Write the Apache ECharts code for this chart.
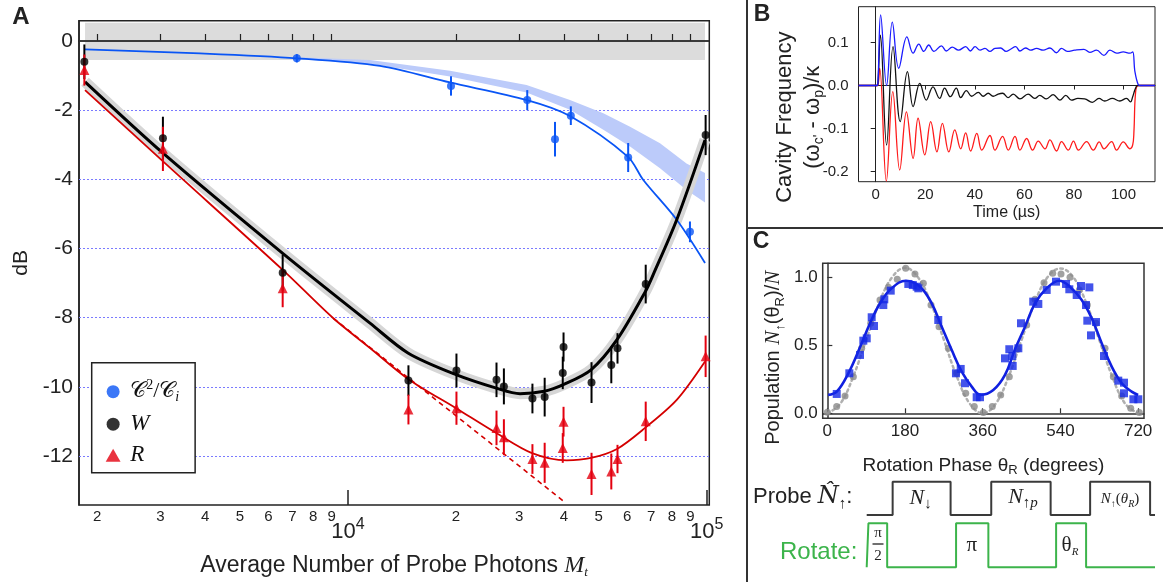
<!DOCTYPE html>
<html><head><meta charset="utf-8">
<script src="https://cdn.jsdelivr.net/npm/echarts@6/dist/echarts.min.js"></script>
<style>html,body{margin:0;padding:0;background:#fff}#c{width:1163px;height:582px}</style>
</head><body><div id="c"></div>
<script>
// ---------------- Panel A data (photon number M_t, dB, error) ----------------
const photonsBlue = [7200, 19370, 31600, 37760, 41800, 60400, 89800];
const dbBlue = [-0.50, -1.30, -1.71, -2.84, -2.16, -3.37, -5.52];
const errBlue = [0.12, 0.28, 0.29, 0.50, 0.27, 0.42, 0.30];

const photonsWR = [1841, 3048, 6575, 14740, 20060, 25940, 27200, 32670, 35340, 39690, 39890, 47740, 54200, 56400, 67600, 99300];
const dbW = [-0.60, -2.81, -6.70, -9.82, -9.53, -9.80, -9.99, -10.34, -10.30, -9.60, -8.85, -9.88, -9.37, -8.89, -7.03, -2.72];
const errW = [0.50, 0.62, 0.52, 0.44, 0.49, 0.50, 0.52, 0.43, 0.56, 0.47, 0.42, 0.59, 0.53, 0.44, 0.56, 0.58];
const dbR = [-0.84, -3.12, -7.15, -10.66, -10.62, -11.19, -11.46, -12.09, -12.20, -11.77, -11.01, -12.52, -12.45, -12.09, -11.00, -9.12];
const errR = [0.45, 0.64, 0.55, 0.43, 0.48, 0.50, 0.52, 0.43, 0.58, 0.43, 0.43, 0.61, 0.52, 0.41, 0.57, 0.60];

const fitBlueM = [1849, 3868, 7207, 12285, 19250, 31550, 41580, 60350, 66570, 82490, 98920];
const fitBlueDb = [-0.24, -0.36, -0.50, -0.72, -1.20, -1.71, -2.17, -3.35, -4.02, -5.17, -6.42];

const bandBlueM = [7207, 11516, 19250, 31460, 41580, 51500, 61130, 74100, 87830, 98920];
const bandBlueHi = [-0.47, -0.55, -0.86, -1.27, -1.71, -2.09, -2.48, -2.96, -3.54, -3.82];
const bandBlueLo = [-0.52, -0.66, -1.03, -1.49, -1.99, -2.57, -3.05, -3.68, -4.31, -4.67];

const fitWM = [1849, 3056, 6577, 11516, 14730, 20000, 25910, 30170, 35270, 39830, 47590, 56220, 67420, 70980, 82490, 98920];
const fitWDb = [-1.18, -3.25, -6.14, -8.16, -9.03, -9.65, -10.04, -10.20, -10.13, -9.94, -9.51, -8.64, -7.25, -6.75, -5.17, -2.86];

const fitRM = [1849, 3056, 6577, 9100, 11516, 14730, 20000, 25910, 32580, 40710, 47590, 56220, 67330, 82490, 98920];
const fitRDb = [-1.42, -3.49, -6.62, -8.02, -8.88, -9.78, -10.62, -11.34, -11.92, -12.13, -12.06, -11.80, -11.19, -10.38, -9.27];

const asymRM = [9100, 40450];
const asymRDb = [-8.02, -13.36];

const zeroBandM = [1849, 98920];
const zeroBandDb = [0.53, -0.55];

const yTicksA = [0, -2, -4, -6, -8, -10, -12];
const gridLinesA = [-2, -4, -6, -8, -10, -12];
const minorTicksA = [2000, 3000, 4000, 5000, 6000, 7000, 8000, 9000, 20000, 30000, 40000, 50000, 60000, 70000, 80000, 90000];
const majorTicksA = [10000, 100000];

// ---------------- Panel B data (time in µs, cavity frequency) ----------------
const tBlue = [-6.9, 0.5, 0.9, 2.0, 4.4, 6.7, 9.3, 12.6, 15.1, 17.4, 19.4, 21.4, 23.5, 26.5, 28.5, 30.9, 33.4, 36.3, 38.2, 40.1, 42.1, 44.1, 46.1, 48.1, 50.4, 52.6, 54.4, 56.5, 58.2, 60.5, 62.5, 64.9, 67.6, 70.3, 72.9, 75.0, 77.3, 80.3, 84.0, 86.4, 89.1, 92.1, 94.5, 97.2, 99.9, 102.6, 103.7, 104.6, 106.0, 106.6, 112.7];
const fBlue = [0, 0, 0.005, 0.164, 0.0, 0.147, 0.040, 0.113, 0.075, 0.096, 0.079, 0.094, 0.079, 0.092, 0.080, 0.089, 0.082, 0.090, 0.080, 0.090, 0.082, 0.086, 0.079, 0.086, 0.087, 0.079, 0.084, 0.090, 0.080, 0.087, 0.082, 0.086, 0.082, 0.087, 0.076, 0.086, 0.079, 0.082, 0.084, 0.077, 0.082, 0.070, 0.082, 0.075, 0.078, 0.075, 0.078, 0.032, 0.001, 0, 0];
const tBlack = [-6.9, 0.5, 0.9, 1.9, 4.4, 7.0, 9.9, 12.8, 15.1, 17.8, 20.4, 23.1, 25.8, 27.8, 30.1, 32.5, 34.3, 36.6, 38.7, 41.4, 43.4, 45.4, 47.4, 49.4, 51.2, 53.4, 55.5, 58.2, 61.5, 64.2, 66.2, 68.9, 71.6, 74.3, 76.7, 79.0, 81.6, 84.3, 87.4, 90.1, 92.4, 95.5, 98.5, 101.2, 102.8, 103.7, 104.6, 105.6, 106.2, 112.7];
const fBlack = [0, 0, 0.005, 0.117, -0.138, 0.090, -0.084, 0.032, -0.049, 0.005, -0.034, -0.003, -0.030, -0.006, -0.026, -0.006, -0.028, -0.012, -0.025, -0.016, -0.025, -0.018, -0.025, -0.020, -0.018, -0.028, -0.020, -0.031, -0.020, -0.030, -0.023, -0.031, -0.021, -0.034, -0.023, -0.034, -0.030, -0.031, -0.039, -0.030, -0.036, -0.030, -0.036, -0.030, -0.038, -0.026, -0.010, 0.0, 0, 0];
const tRed = [-6.9, 0.5, 0.9, 1.6, 4.3, 6.9, 9.7, 12.4, 15.1, 17.1, 19.8, 22.2, 24.7, 26.9, 29.5, 31.9, 34.3, 36.3, 38.3, 40.8, 42.8, 46.1, 48.1, 51.2, 53.5, 56.2, 58.2, 60.9, 63.3, 65.6, 68.3, 70.3, 73.0, 75.0, 77.7, 79.8, 81.8, 85.1, 87.8, 90.2, 92.1, 95.2, 97.2, 99.9, 102.6, 103.7, 104.2, 104.9, 106.0, 106.6, 112.7];
const fRed = [0, 0, 0.0, 0.040, -0.222, -0.014, -0.196, -0.061, -0.169, -0.076, -0.161, -0.084, -0.154, -0.088, -0.154, -0.103, -0.147, -0.110, -0.152, -0.111, -0.150, -0.116, -0.150, -0.118, -0.150, -0.118, -0.150, -0.123, -0.150, -0.129, -0.147, -0.126, -0.152, -0.130, -0.150, -0.129, -0.150, -0.130, -0.150, -0.131, -0.147, -0.130, -0.150, -0.131, -0.147, -0.138, -0.107, -0.014, 0.0, 0, 0];
const xTicksB = [0, 20, 40, 60, 80, 100];
const yTicksB = [-0.2, -0.1, 0.0, 0.1];

// ---------------- Panel C data (rotation phase in degrees, population) ----------------
const phaseGray = [0, 21.7, 41, 60.3, 79.6, 100.5, 122, 141.4, 162, 181.6, 203, 222.4, 240.2, 258.8, 280.3, 299.7, 320.6, 340.5, 361.4, 382.2, 401.6, 421.6, 441, 461.9, 481.1, 502, 522.1, 541.4, 562.2, 583.7, 602.3, 622.4, 643.3, 662.5, 681.9, 702.8, 722.7];
const popGray = [0.007, 0.049, 0.127, 0.269, 0.478, 0.662, 0.833, 0.926, 0.985, 1.066, 1.024, 0.956, 0.796, 0.637, 0.478, 0.294, 0.147, 0.049, 0.005, 0.049, 0.135, 0.269, 0.47, 0.649, 0.838, 0.96, 1.029, 1.024, 1.0, 0.907, 0.796, 0.662, 0.478, 0.269, 0.127, 0.037, 0.005];
const phaseDotted = [0, 30, 60, 90, 120, 150, 180, 210, 240, 270, 300, 330, 360, 390, 420, 450, 480, 510, 540, 570, 600, 630, 660, 690, 720];
const popDotted = [0.0, 0.07, 0.27, 0.54, 0.81, 1.0, 1.07, 1.0, 0.81, 0.54, 0.27, 0.07, 0.0, 0.07, 0.27, 0.54, 0.81, 1.0, 1.065, 1.0, 0.81, 0.54, 0.27, 0.07, 0.0];
const phaseFit = [2, 21.8, 48.7, 75.7, 98.9, 122, 149, 182, 214.7, 241.8, 265, 288.2, 311.3, 334.5, 355, 384.5, 411.6, 434.8, 458, 481.1, 508.2, 537, 562, 589.3, 612.5, 635.6, 658.8, 682, 705, 720];
const popFit = [0.135, 0.159, 0.294, 0.485, 0.662, 0.809, 0.919, 0.975, 0.931, 0.809, 0.637, 0.465, 0.306, 0.196, 0.135, 0.171, 0.282, 0.47, 0.637, 0.809, 0.919, 0.975, 0.931, 0.833, 0.699, 0.515, 0.343, 0.221, 0.159, 0.135];
const phaseBlue = [21.8, 51, 75.7, 83.4, 91.3, 102.8, 108.2, 129.7, 132, 146.9, 187.6, 198, 207, 210.8, 257, 298, 309, 319, 346, 353.7, 411.6, 421.6, 428.6, 429.4, 442.5, 448.7, 477, 488.8, 508.2, 529.8, 553, 560.6, 577.7, 587.7, 599.3, 602.3, 607, 610.8, 622.4, 641, 674, 687.3, 687.3, 709, 720.4];
const popBlue = [0.142, 0.294, 0.429, 0.534, 0.551, 0.706, 0.642, 0.796, 0.838, 0.902, 0.951, 0.943, 0.931, 0.919, 0.686, 0.294, 0.326, 0.221, 0.118, 0.118, 0.404, 0.471, 0.421, 0.348, 0.478, 0.662, 0.821, 0.804, 0.907, 0.968, 0.951, 0.912, 0.870, 0.936, 0.796, 0.681, 0.926, 0.573, 0.671, 0.421, 0.240, 0.225, 0.147, 0.103, 0.103];
const xTicksC = [0, 180, 360, 540, 720];
const yTicksC = [0, 0.5, 1.0];

// ---------------- Pulse sequence (schematic time units 0..100) ----------------
const probeEdges = [0, 9.0, 29.1, 43.2, 63.8, 77.5, 98.3, 100];
const rotateEdges = [0, 0.6, 7.1, 31.0, 42.2, 65.7, 76.1, 100];

// ---------------- helpers ----------------
const SANS = "'Liberation Sans', Arial, sans-serif";
const SERIF = "'Liberation Serif', 'DejaVu Serif', serif";
const lg = Math.log10;
const pairs = (xs, ys) => xs.map((x, i) => [x, ys[i]]);
const lpairs = (ms, ys) => ms.map((m, i) => [lg(m), ys[i]]);
function steps(edges) {
  let lvl = 0; const pts = [[edges[0], lvl]];
  for (let i = 1; i < edges.length - 1; i++) { pts.push([edges[i], lvl]); lvl = 1 - lvl; pts.push([edges[i], lvl]); }
  pts.push([edges[edges.length - 1], lvl]);
  return pts;
}
function errSeries(ms, vals, errs, color) {
  return {
    type: 'custom', xAxisIndex: 0, yAxisIndex: 0, z: 6, silent: true,
    data: ms.map((m, i) => [lg(m), vals[i], errs[i]]),
    encode: { x: 0, y: 1 },
    renderItem: (params, api) => {
      const x = api.value(0), y = api.value(1), e = api.value(2);
      const a = api.coord([x, y + e]), b = api.coord([x, y - e]);
      return { type: 'line', shape: { x1: a[0], y1: a[1], x2: b[0], y2: b[1] }, style: { stroke: color, lineWidth: 2 } };
    }
  };
}
const BLUE_A = '#0a55f5', RED_A = '#e3000f', RED_LINE = '#d40000';
const SMOOTH_A = 0.3;

const axisCommon = { nameMoveOverlap: false };

const option = {
  animation: false,
  backgroundColor: '#ffffff',
  textStyle: { fontFamily: SANS },
  grid: [
    { left: 79, top: 20.7, width: 630.3, height: 484.3, show: true, borderColor: '#222', borderWidth: 1.5, backgroundColor: 'rgba(0,0,0,0)', containLabel: false, outerBoundsMode: 'none' },
    { left: 858.5, top: 6.7, width: 296.5, height: 175, show: true, borderColor: '#222', borderWidth: 1, backgroundColor: 'rgba(0,0,0,0)', containLabel: false, outerBoundsMode: 'none' },
    { left: 822.7, top: 263.3, width: 321.3, height: 155, show: true, borderColor: '#333', borderWidth: 1.5, backgroundColor: 'rgba(0,0,0,0)', containLabel: false, outerBoundsMode: 'none' },
    { left: 866.7, top: 481.7, width: 288.3, height: 33.3, containLabel: false, outerBoundsMode: 'none' },
    { left: 866.7, top: 523.3, width: 288.3, height: 44, containLabel: false, outerBoundsMode: 'none' }
  ],
  xAxis: [
    Object.assign({}, axisCommon, {
      gridIndex: 0, type: 'value', position: 'bottom', min: 3.2501, max: 5.0072,
      axisLine: { show: true, lineStyle: { color: '#222', width: 1.5 } },
      axisTick: { show: true, inside: true, length: 7, customValues: minorTicksA.map(lg), lineStyle: { color: '#222', width: 1.2 } },
      axisLabel: { show: true, customValues: minorTicksA.map(lg), margin: 4, fontSize: 15, color: '#222', fontFamily: SANS,
        formatter: v => String(Math.round(Math.pow(10, v - Math.floor(v + 1e-9)))) },
      splitLine: { show: false },
      name: 'Average Number of Probe Photons {m|M}{t|t}', nameLocation: 'middle', nameGap: 47,
      nameTextStyle: { fontSize: 23, color: '#222', fontFamily: SANS, lineHeight: 27,
        rich: { m: { fontFamily: SERIF, fontStyle: 'italic', fontSize: 24, lineHeight: 27 },
                t: { fontFamily: SERIF, fontStyle: 'italic', fontSize: 13, lineHeight: 12, verticalAlign: 'bottom' } } }
    }),
    Object.assign({}, axisCommon, {
      gridIndex: 0, type: 'value', position: 'bottom', min: 3.2501, max: 5.0072,
      axisLine: { show: false },
      axisTick: { show: true, inside: true, length: 15, customValues: majorTicksA.map(lg), lineStyle: { color: '#222', width: 1.5 } },
      axisLabel: { show: true, customValues: majorTicksA.map(lg), margin: 12, color: '#222',
        formatter: v => '{b|10}{s|' + Math.round(v) + '}',
        rich: { b: { fontSize: 22, fontFamily: SANS, lineHeight: 30, color: '#222' },
                s: { fontSize: 16, fontFamily: SANS, lineHeight: 16, verticalAlign: 'top', color: '#222' } } },
      splitLine: { show: false }
    }),
    Object.assign({}, axisCommon, {
      gridIndex: 1, type: 'value', min: -6.94, max: 112.7,
      axisLine: { show: true, lineStyle: { color: '#222', width: 1 } },
      axisTick: { show: true, inside: false, length: 4, customValues: xTicksB, lineStyle: { color: '#222' } },
      axisLabel: { show: true, customValues: xTicksB, margin: 6, fontSize: 15, color: '#222', fontFamily: SANS },
      splitLine: { show: false },
      name: 'Time (µs)', nameLocation: 'middle', nameGap: 23,
      nameTextStyle: { fontSize: 16, color: '#222', fontFamily: SANS }
    }),
    Object.assign({}, axisCommon, {
      gridIndex: 2, type: 'value', min: -10.7, max: 733.6,
      axisLine: { show: true, lineStyle: { color: '#333', width: 1.5 } },
      axisTick: { show: true, inside: true, length: 5, customValues: xTicksC, lineStyle: { color: '#333', width: 1.2 } },
      axisLabel: { show: true, customValues: xTicksC, margin: 5, fontSize: 17, color: '#222', fontFamily: SANS },
      splitLine: { show: false },
      name: 'Rotation Phase θ{s|R} (degrees)', nameLocation: 'middle', nameGap: 36,
      nameTextStyle: { fontSize: 19, color: '#222', fontFamily: SANS, lineHeight: 23,
        rich: { s: { fontSize: 13, fontFamily: SANS, lineHeight: 11, verticalAlign: 'bottom' } } }
    }),
    { gridIndex: 3, type: 'value', min: 0, max: 100, show: false },
    { gridIndex: 4, type: 'value', min: 0, max: 100, show: false }
  ],
  yAxis: [
    Object.assign({}, axisCommon, {
      gridIndex: 0, type: 'value', min: -13.42, max: 0.587,
      axisLine: { show: true, lineStyle: { color: '#222', width: 1.5 } },
      axisTick: { show: false },
      axisLabel: { show: true, customValues: yTicksA, margin: 6, fontSize: 21, color: '#222', fontFamily: SANS,
        formatter: v => String(Math.round(v)) },
      splitLine: { show: false },
      name: 'dB', nameLocation: 'middle', nameRotate: 90, nameGap: 47,
      nameTextStyle: { fontSize: 21, color: '#222', fontFamily: SANS }
    }),
    Object.assign({}, axisCommon, {
      gridIndex: 1, type: 'value', min: -0.2232, max: 0.1828,
      axisLine: { show: true, lineStyle: { color: '#222', width: 1 } },
      axisTick: { show: true, inside: false, length: 5, customValues: yTicksB, lineStyle: { color: '#222' } },
      axisLabel: { show: true, customValues: yTicksB, margin: 10, fontSize: 15, color: '#222', fontFamily: SANS,
        formatter: v => v.toFixed(1) },
      splitLine: { show: false },
      name: 'Cavity Frequency\n(ω{s|c\'} - ω{s|p})/κ', nameLocation: 'middle', nameRotate: 90, nameGap: 32,
      nameTextStyle: { fontSize: 22, color: '#222', fontFamily: SANS, lineHeight: 28, padding: [0, 46, 0, 0],
        rich: { s: { fontSize: 14, fontFamily: SANS, lineHeight: 12, verticalAlign: 'bottom' } } }
    }),
    Object.assign({}, axisCommon, {
      gridIndex: 2, type: 'value', min: -0.037, max: 1.103,
      axisLine: { show: true, lineStyle: { color: '#333', width: 1.5 } },
      axisTick: { show: true, inside: true, length: 5, customValues: yTicksC, lineStyle: { color: '#333', width: 1.2 } },
      axisLabel: { show: true, customValues: yTicksC, margin: 5, fontSize: 17, color: '#222', fontFamily: SANS,
        formatter: v => v.toFixed(1) },
      splitLine: { show: false },
      name: 'Population {n|N}{s|↑}(θ{s|R})/{n|N}', nameLocation: 'middle', nameRotate: 90, nameGap: 36,
      nameTextStyle: { fontSize: 20, color: '#222', fontFamily: SANS, lineHeight: 26, padding: [0, 34, 0, 0],
        rich: { n: { fontSize: 21, fontFamily: SERIF, fontStyle: 'italic', lineHeight: 26 },
                s: { fontSize: 13, fontFamily: SANS, lineHeight: 12, verticalAlign: 'bottom' } } }
    }),
    { gridIndex: 3, type: 'value', min: 0, max: 1, show: false },
    { gridIndex: 4, type: 'value', min: 0, max: 1, show: false }
  ],
  legend: {
    show: true, orient: 'vertical', left: 91.7, top: 362.7,
    padding: [16, 16, 6, 14], itemGap: 8, itemWidth: 24, itemHeight: 13,
    borderColor: '#222', borderWidth: 1.5, backgroundColor: '#fff',
    selectedMode: false, symbolKeepAspect: true,
    data: [{ name: 'C2Ci', icon: 'circle' }, { name: 'W', icon: 'circle' }, { name: 'R', icon: 'path://M6,0 L12,10.5 L0,10.5 Z' }],
    formatter: name => name === 'C2Ci' ? '{cal|𝒞}{sup|2}{sl|/}{cal|𝒞}{sub|i}' : '{it|' + name + '}',
    textStyle: { fontFamily: SERIF, fontSize: 22, color: '#111',
      rich: {
        cal: { fontFamily: "'DejaVu Sans', 'DejaVu Serif', serif", fontSize: 22, lineHeight: 26, color: '#111' },
        sup: { fontFamily: SERIF, fontSize: 14, lineHeight: 14, verticalAlign: 'top', color: '#111' },
        sl: { fontFamily: SERIF, fontSize: 22, lineHeight: 26, color: '#111' },
        sub: { fontFamily: SERIF, fontStyle: 'italic', fontSize: 14, lineHeight: 14, verticalAlign: 'bottom', color: '#111' },
        it: { fontFamily: SERIF, fontStyle: 'italic', fontSize: 23, lineHeight: 26, color: '#111' }
      } }
  },
  series: [
    // reference band at 0 dB, zero line and dotted grid lines
    { type: 'line', name: 'refs', xAxisIndex: 0, yAxisIndex: 0, z: 1, silent: true, symbol: 'none',
      data: lpairs(zeroBandM, [0, 0]), lineStyle: { opacity: 0 },
      markArea: { silent: true, z: 0, itemStyle: { color: '#dcdcdc' },
        data: [[{ xAxis: lg(zeroBandM[0]), yAxis: zeroBandDb[0] }, { xAxis: lg(zeroBandM[1]), yAxis: zeroBandDb[1] }]] },
      markLine: { silent: true, z: 1, symbol: 'none', label: { show: false },
        data: [{ yAxis: 0, lineStyle: { color: '#333', width: 1.5, type: 'solid' } }]
          .concat(gridLinesA.map(v => ({ yAxis: v, lineStyle: { color: '#7a7aff', width: 1, type: [2, 2] } }))) } },
    // blue theory band
    { type: 'custom', name: 'bandBlue', xAxisIndex: 0, yAxisIndex: 0, z: 2, silent: true,
      data: [[lg(bandBlueM[0]), bandBlueLo[0]]],
      renderItem: (params, api) => {
        const pts = bandBlueM.map((m, i) => api.coord([lg(m), bandBlueHi[i]]));
        for (let i = bandBlueM.length - 1; i >= 0; i--) pts.push(api.coord([lg(bandBlueM[i]), bandBlueLo[i]]));
        return { type: 'polygon', shape: { points: pts }, style: { fill: '#bccbfa' } };
      } },
    // gray band around W fit
    { type: 'line', name: 'bandW', xAxisIndex: 0, yAxisIndex: 0, z: 3, silent: true, symbol: 'none', smooth: SMOOTH_A,
      data: lpairs(fitWM, fitWDb), lineStyle: { color: '#d6d6d6', width: 11, cap: 'butt' } },
    { type: 'line', name: 'fitBlue', xAxisIndex: 0, yAxisIndex: 0, z: 4, silent: true, symbol: 'none', smooth: SMOOTH_A,
      data: lpairs(fitBlueM, fitBlueDb), lineStyle: { color: BLUE_A, width: 1.8 } },
    { type: 'line', name: 'asymR', xAxisIndex: 0, yAxisIndex: 0, z: 4, silent: true, symbol: 'none',
      data: lpairs(asymRM, asymRDb), lineStyle: { color: RED_LINE, width: 1.6, type: [5, 4] } },
    { type: 'line', name: 'fitR', xAxisIndex: 0, yAxisIndex: 0, z: 4, silent: true, symbol: 'none', smooth: SMOOTH_A,
      data: lpairs(fitRM, fitRDb), lineStyle: { color: RED_LINE, width: 1.8 } },
    { type: 'line', name: 'fitW', xAxisIndex: 0, yAxisIndex: 0, z: 5, silent: true, symbol: 'none', smooth: SMOOTH_A,
      data: lpairs(fitWM, fitWDb), lineStyle: { color: '#000', width: 3 } },
    errSeries(photonsBlue, dbBlue, errBlue, BLUE_A),
    errSeries(photonsWR, dbW, errW, '#000'),
    errSeries(photonsWR, dbR, errR, RED_A),
    { type: 'scatter', name: 'C2Ci', xAxisIndex: 0, yAxisIndex: 0, z: 7, symbol: 'circle', symbolSize: 8,
      itemStyle: { color: BLUE_A }, data: lpairs(photonsBlue, dbBlue) },
    { type: 'scatter', name: 'W', xAxisIndex: 0, yAxisIndex: 0, z: 7, symbol: 'circle', symbolSize: 8,
      itemStyle: { color: '#000' }, data: lpairs(photonsWR, dbW) },
    { type: 'scatter', name: 'R', xAxisIndex: 0, yAxisIndex: 0, z: 7, symbol: 'triangle', symbolSize: [10, 10],
      itemStyle: { color: RED_A }, data: lpairs(photonsWR, dbR) },

    // Panel B traces
    { type: 'line', name: 'cavRed', xAxisIndex: 2, yAxisIndex: 1, z: 3, silent: true, symbol: 'none', smooth: 0.4,
      data: pairs(tRed, fRed), lineStyle: { color: '#ff1a1a', width: 1.3 } },
    { type: 'line', name: 'cavBlack', xAxisIndex: 2, yAxisIndex: 1, z: 3, silent: true, symbol: 'none', smooth: 0.4,
      data: pairs(tBlack, fBlack), lineStyle: { color: '#111', width: 1.3 } },
    { type: 'line', name: 'cavBlue', xAxisIndex: 2, yAxisIndex: 1, z: 3, silent: true, symbol: 'none', smooth: 0.4,
      data: pairs(tBlue, fBlue), lineStyle: { color: '#1a1aff', width: 1.3 } },

    // Panel C
    { type: 'line', name: 'ideal', xAxisIndex: 3, yAxisIndex: 2, z: 3, silent: true, symbol: 'none', smooth: 0.4,
      data: pairs(phaseDotted, popDotted), lineStyle: { color: '#b0b0b0', width: 2.5, type: [2.5, 3.5], cap: 'round' } },
    { type: 'scatter', name: 'idealPts', xAxisIndex: 3, yAxisIndex: 2, z: 4, silent: true, symbol: 'circle', symbolSize: 7,
      itemStyle: { color: '#8a8a8a' }, data: pairs(phaseGray, popGray) },
    { type: 'line', name: 'fitPop', xAxisIndex: 3, yAxisIndex: 2, z: 5, silent: true, symbol: 'none', smooth: 0.4,
      data: pairs(phaseFit, popFit), lineStyle: { color: '#1020e0', width: 2.6 } },
    { type: 'scatter', name: 'measPop', xAxisIndex: 3, yAxisIndex: 2, z: 6, silent: true, symbol: 'rect', symbolSize: 8,
      itemStyle: { color: '#1428e6' }, data: pairs(phaseBlue, popBlue) },

    // Pulse sequence
    { type: 'line', name: 'probe', xAxisIndex: 4, yAxisIndex: 3, z: 3, silent: true, symbol: 'none', clip: false,
      data: steps(probeEdges), lineStyle: { color: '#3a3a3a', width: 2 } },
    { type: 'line', name: 'rotate', xAxisIndex: 5, yAxisIndex: 4, z: 3, silent: true, symbol: 'none', clip: false,
      data: steps(rotateEdges), lineStyle: { color: '#3cb44b', width: 2 } }
  ],
  graphic: [
    { type: 'line', silent: true, shape: { x1: 747, y1: 0, x2: 747, y2: 582 }, style: { stroke: '#333', lineWidth: 2 } },
    { type: 'line', silent: true, shape: { x1: 747, y1: 228, x2: 1163, y2: 228 }, style: { stroke: '#333', lineWidth: 2 } },
    { type: 'text', silent: true, x: 21, y: 17, style: { text: 'A', fontSize: 24, fontWeight: 'bold', fontFamily: SANS, fill: '#222', align: 'center', verticalAlign: 'middle' } },
    { type: 'text', silent: true, x: 762, y: 15, style: { text: 'B', fontSize: 23, fontWeight: 'bold', fontFamily: SANS, fill: '#222', align: 'center', verticalAlign: 'middle' } },
    { type: 'text', silent: true, x: 761, y: 242, style: { text: 'C', fontSize: 23, fontWeight: 'bold', fontFamily: SANS, fill: '#222', align: 'center', verticalAlign: 'middle' } },
    { type: 'text', silent: true, x: 753, y: 497, style: { text: '{t|Probe }{n|N\u0302}{s|↑}{t|:}', align: 'left', verticalAlign: 'middle',
      rich: { t: { fontSize: 22, fontFamily: SANS, fill: '#222', lineHeight: 30 },
              n: { fontSize: 24, fontFamily: "'DejaVu Serif', serif", fontStyle: 'italic', fill: '#222', lineHeight: 30 },
              s: { fontSize: 15, fontFamily: SERIF, fill: '#222', lineHeight: 15, verticalAlign: 'bottom' } } } },
    { type: 'text', silent: true, x: 920.7, y: 498, style: { text: '{n|N}{s|↓}', align: 'center', verticalAlign: 'middle',
      rich: { n: { fontSize: 22, fontFamily: SERIF, fontStyle: 'italic', fill: '#222', lineHeight: 28 },
              s: { fontSize: 15, fontFamily: SERIF, fill: '#222', lineHeight: 15, verticalAlign: 'bottom' } } } },
    { type: 'text', silent: true, x: 1023, y: 497, style: { text: '{n|N}{s|↑}{p|p}', align: 'center', verticalAlign: 'middle',
      rich: { n: { fontSize: 22, fontFamily: SERIF, fontStyle: 'italic', fill: '#222', lineHeight: 28 },
              s: { fontSize: 15, fontFamily: SERIF, fill: '#222', lineHeight: 15, verticalAlign: 'bottom' },
              p: { fontSize: 15, fontFamily: SERIF, fontStyle: 'italic', fill: '#222', lineHeight: 15, verticalAlign: 'bottom' } } } },
    { type: 'text', silent: true, x: 1120, y: 499, style: { text: '{n|N}{s|↑}{r|(}{n|θ}{si|R}{r|)}', align: 'center', verticalAlign: 'middle',
      rich: { n: { fontSize: 15, fontFamily: SERIF, fontStyle: 'italic', fill: '#222', lineHeight: 20 },
              r: { fontSize: 15, fontFamily: SERIF, fill: '#222', lineHeight: 20 },
              s: { fontSize: 10, fontFamily: SERIF, fill: '#222', lineHeight: 10, verticalAlign: 'bottom' },
              si: { fontSize: 10, fontFamily: SERIF, fontStyle: 'italic', fill: '#222', lineHeight: 10, verticalAlign: 'bottom' } } } },
    { type: 'text', silent: true, x: 780, y: 552, style: { text: 'Rotate:', fontSize: 24, fontFamily: SANS, fill: '#3cb44b', align: 'left', verticalAlign: 'middle' } },
    { type: 'text', silent: true, x: 878, y: 533, style: { text: 'π', fontSize: 15, fontFamily: SERIF, fill: '#222', align: 'center', verticalAlign: 'middle' } },
    { type: 'line', silent: true, shape: { x1: 872.5, y1: 544, x2: 883.5, y2: 544 }, style: { stroke: '#222', lineWidth: 1.3 } },
    { type: 'text', silent: true, x: 878, y: 556, style: { text: '2', fontSize: 15, fontFamily: SERIF, fill: '#222', align: 'center', verticalAlign: 'middle' } },
    { type: 'text', silent: true, x: 971.7, y: 545, style: { text: 'π', fontSize: 21, fontFamily: SERIF, fill: '#222', align: 'center', verticalAlign: 'middle' } },
    { type: 'text', silent: true, x: 1070, y: 545, style: { text: '{t|θ}{s|R}', align: 'center', verticalAlign: 'middle',
      rich: { t: { fontSize: 21, fontFamily: SERIF, fill: '#222', lineHeight: 26 },
              s: { fontSize: 11, fontFamily: SERIF, fontStyle: 'italic', fill: '#222', lineHeight: 11, verticalAlign: 'bottom' } } } }
  ]
};

const chart = echarts.init(document.getElementById('c'), null, { renderer: 'canvas' });
chart.setOption(option);
</script></body></html>
